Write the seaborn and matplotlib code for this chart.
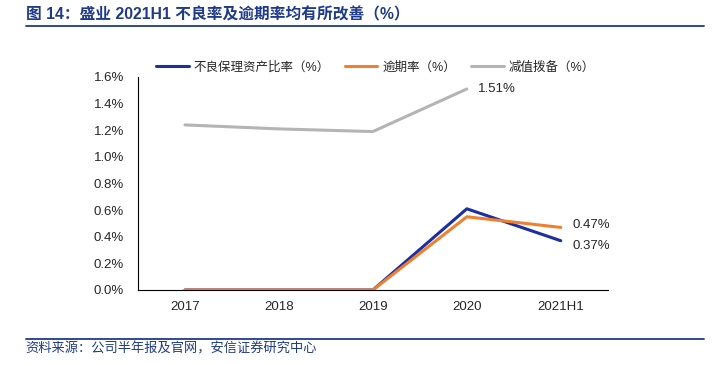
import numpy as np
import pandas as pd
import seaborn as sns
import matplotlib.pyplot as plt
from matplotlib.lines import Line2D

years = ['2017', '2018', '2019', '2020', '2021H1']
npa_ratio = [0.0, 0.0, 0.0, 0.61, 0.37]      # 不良保理资产比率（%）
overdue_ratio = [0.0, 0.0, 0.0, 0.55, 0.47]  # 逾期率（%）
impairment = [1.24, 1.21, 1.19, 1.51, np.nan]  # 减值拨备（%）
series_names = ['不良保理资产比率（%）', '逾期率（%）', '减值拨备（%）']
colors = ['#1B2FA0', '#F07F2E', '#B4B4B4']

sns.set_theme(style='white')
plt.rcParams['font.family'] = ['Liberation Sans', 'Noto Sans CJK SC', 'DejaVu Sans']

df = pd.DataFrame({'year': years,
                   series_names[0]: npa_ratio,
                   series_names[1]: overdue_ratio,
                   series_names[2]: impairment})
long = df.melt(id_vars='year', var_name='series', value_name='value').dropna()
long['x'] = long['year'].map({y: i for i, y in enumerate(years)})

fig = plt.figure(figsize=(7.15, 3.65), dpi=100)
ax = fig.add_axes([0.193, 0.2055, 0.657, 0.5836])

sns.lineplot(data=long, x='x', y='value', hue='series', hue_order=series_names,
             palette=colors, linewidth=2.2, ax=ax, legend=False, sort=False)

ax.set_xlim(-0.5, len(years) - 0.5)
ax.set_ylim(0, 1.6)
ax.set_yticks(np.arange(0, 1.61, 0.2))
ax.set_yticklabels([f'{v:.1f}%' for v in np.arange(0, 1.61, 0.2)], fontsize=9.5)
ax.set_xticks(range(len(years)))
ax.set_xticklabels(years, fontsize=9.5)
ax.set_xticks(np.arange(0.5, len(years), 1), minor=True)
ax.tick_params(axis='x', which='major', length=0, pad=8)
ax.tick_params(axis='x', which='minor', length=4, width=0.8, color='black', direction='out')
ax.tick_params(axis='y', length=4, width=0.8, color='black', direction='out', pad=6)
ax.set_xlabel('')
ax.set_ylabel('')
for s in ['top', 'right']:
    ax.spines[s].set_visible(False)
for s in ['left', 'bottom']:
    ax.spines[s].set_color('black')
    ax.spines[s].set_linewidth(0.8)

# value labels
ax.text(3.12, impairment[3], f'{impairment[3]:.2f}%', fontsize=9.5, va='center', ha='left')
ax.text(4.12, overdue_ratio[4] + 0.02, f'{overdue_ratio[4]:.2f}%', fontsize=9.5, va='center', ha='left')
ax.text(4.12, npa_ratio[4] - 0.04, f'{npa_ratio[4]:.2f}%', fontsize=9.5, va='center', ha='left')

handles = [Line2D([0], [0], color=c, lw=2.2) for c in colors]
fig.legend(handles, series_names, loc='center', bbox_to_anchor=(0.525, 0.815),
           ncol=3, frameon=False, fontsize=9, handlelength=2.6, columnspacing=1.2,
           handletextpad=0.4)

# title and source
fig.text(0.036, 0.959, '图 14：盛业 2021H1 不良率及逾期率均有所改善（%）', fontsize=11.3,
         fontweight='bold', color='#1F3A8C', va='center', ha='left')
fig.add_artist(Line2D([0.036, 0.985], [0.93, 0.93], color='#1F3A8C', lw=1.3))
fig.add_artist(Line2D([0.036, 0.985], [0.072, 0.072], color='#1F3A8C', lw=1.3))
fig.text(0.036, 0.045, '资料来源：公司半年报及官网，安信证券研究中心', fontsize=9.5,
         style='italic', color='#1F3A8C', va='center', ha='left')

fig.savefig('out.png', dpi=100)
